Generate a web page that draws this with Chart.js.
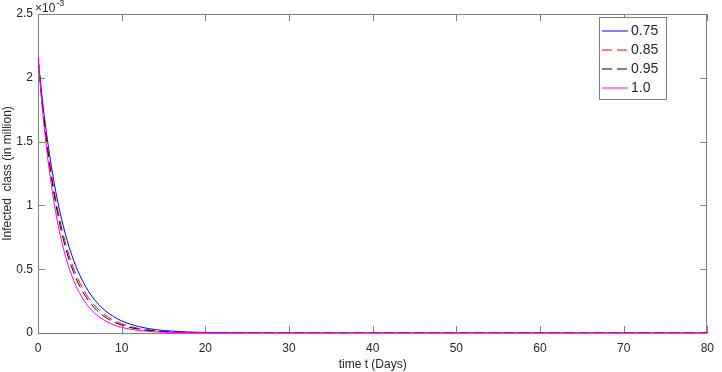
<!DOCTYPE html>
<html>
<head>
<meta charset="utf-8">
<script src="https://cdn.jsdelivr.net/npm/chart.js@4/dist/chart.umd.min.js"></script>
<style>
  body { margin: 0; background: #fff; }
  canvas { display: block; }
</style>
</head>
<body>
<canvas id="infChart" width="722" height="372"></canvas>
<script>
// --- data (Infected class, in units of 1e-3 million) ---
const times = [0, 0.5, 1, 1.5, 2, 2.5, 3, 3.5, 4, 4.5, 5, 6, 7, 8, 9, 10, 11, 12, 13, 14, 15, 16, 18, 20, 25, 30, 40, 50, 60, 70, 80];

const inf075 = [2.16, 1.840, 1.574, 1.347, 1.152, 0.986, 0.844, 0.722, 0.618, 0.528, 0.452, 0.331, 0.242, 0.177, 0.130, 0.095, 0.070, 0.051, 0.037, 0.027, 0.020, 0.015, 0.008, 0.004, 0.001, 0.0002, 0, 0, 0, 0, 0];
const inf085 = [2.16, 1.814, 1.530, 1.291, 1.089, 0.919, 0.775, 0.654, 0.552, 0.466, 0.393, 0.280, 0.199, 0.142, 0.101, 0.072, 0.051, 0.036, 0.026, 0.018, 0.013, 0.009, 0.005, 0.002, 0.0004, 0, 0, 0, 0, 0, 0];
const inf095 = [2.16, 1.800, 1.508, 1.262, 1.057, 0.885, 0.741, 0.621, 0.520, 0.435, 0.365, 0.256, 0.179, 0.126, 0.088, 0.062, 0.043, 0.030, 0.021, 0.015, 0.010, 0.007, 0.004, 0.002, 0.0003, 0, 0, 0, 0, 0, 0];
const inf100 = [2.16, 1.771, 1.459, 1.202, 0.990, 0.815, 0.672, 0.553, 0.456, 0.375, 0.309, 0.210, 0.142, 0.097, 0.065, 0.044, 0.030, 0.020, 0.014, 0.009, 0.006, 0.004, 0.002, 0.001, 0.0001, 0, 0, 0, 0, 0, 0];

const seriesLabels = ['0.75', '0.85', '0.95', '1.0'];
const seriesColors = ['#0000ff', '#ff0000', '#000000', '#ff00ff'];
const seriesDash = [[], [10, 5], [10, 5], []];
const xTicks = [0, 10, 20, 30, 40, 50, 60, 70, 80];
const yTicks = [0, 0.5, 1, 1.5, 2, 2.5];

const FONT = "'Liberation Sans', Arial, Helvetica, sans-serif";
const AXIS_COLOR = '#808080';
const TEXT_COLOR = '#262626';

const toPoints = arr => arr.map((v, i) => ({ x: times[i], y: v }));

function line(i, values) {
    return {
        label: seriesLabels[i],
        data: toPoints(values),
        borderColor: seriesColors[i],
        borderWidth: 1,
        borderDash: seriesDash[i],
        pointRadius: 0,
        fill: false,
        cubicInterpolationMode: 'monotone',
        order: 3 - i   // later series drawn on top, like MATLAB
    };
}

// --- MATLAB style box, inward ticks, exponent, legend ---
const matlabAxes = {
    id: 'matlabAxes',
    beforeDatasetsDraw(chart) {
        const { ctx, chartArea: a, scales: { x, y } } = chart;
        ctx.save();
        ctx.strokeStyle = AXIS_COLOR;
        ctx.lineWidth = 1;
        ctx.strokeRect(Math.round(a.left) + 0.5, Math.round(a.top) + 0.5,
            Math.round(a.right - a.left) - 1, Math.round(a.bottom - a.top));
        const tl = 7;
        ctx.beginPath();
        xTicks.forEach(v => {
            const px = Math.round(x.getPixelForValue(v)) + 0.5;
            ctx.moveTo(px, a.bottom); ctx.lineTo(px, a.bottom - tl);
            ctx.moveTo(px, a.top); ctx.lineTo(px, a.top + tl);
        });
        yTicks.forEach(v => {
            const py = Math.round(y.getPixelForValue(v)) + 0.5;
            ctx.moveTo(a.left, py); ctx.lineTo(a.left + tl, py);
            ctx.moveTo(a.right, py); ctx.lineTo(a.right - tl, py);
        });
        ctx.stroke();
        ctx.restore();
    },
    afterDraw(chart) {
        const { ctx } = chart;
        ctx.save();
        // exponent label
        ctx.fillStyle = TEXT_COLOR;
        ctx.textBaseline = 'alphabetic';
        ctx.textAlign = 'left';
        ctx.font = '12px ' + FONT;
        ctx.fillText('\u00d710', 35, 12);
        const w = ctx.measureText('\u00d710').width;
        ctx.font = '9px ' + FONT;
        ctx.fillText('-3', 35 + w + 1, 6);

        // legend
        const bx = 599.5, by = 17.5, bw = 67, bh = 82;
        ctx.fillStyle = '#fff';
        ctx.fillRect(bx, by, bw, bh);
        ctx.strokeStyle = AXIS_COLOR;
        ctx.lineWidth = 1;
        ctx.strokeRect(bx, by, bw, bh);
        ctx.font = '14px ' + FONT;
        ctx.textBaseline = 'middle';
        seriesLabels.forEach((lab, i) => {
            const ry = 31 + i * 19;
            ctx.strokeStyle = seriesColors[i];
            ctx.setLineDash(seriesDash[i]);
            ctx.beginPath();
            ctx.moveTo(602, ry); ctx.lineTo(628, ry);
            ctx.stroke();
            ctx.setLineDash([]);
            ctx.fillStyle = TEXT_COLOR;
            ctx.fillText(lab, 631, ry + 0.5);
        });
        ctx.restore();
    }
};

const ctx = document.getElementById('infChart').getContext('2d');

new Chart(ctx, {
    type: 'line',
    data: {
        datasets: [
            line(0, inf075),
            line(1, inf085),
            line(2, inf095),
            line(3, inf100)
        ]
    },
    options: {
        responsive: false,
        animation: false,
        devicePixelRatio: 1,
        layout: { padding: { top: 14, right: 6, left: 0, bottom: 0 } },
        plugins: { legend: { display: false }, tooltip: { enabled: false } },
        scales: {
            x: {
                type: 'linear',
                min: 0, max: 80,
                afterFit: s => { s.height = 39; },
                grid: { display: false, drawTicks: false },
                border: { display: false },
                ticks: { stepSize: 10, padding: 8, color: TEXT_COLOR, font: { family: FONT, size: 12 }, maxRotation: 0 },
                title: { display: true, text: 'time t (Days)', color: TEXT_COLOR, font: { family: FONT, size: 12 }, padding: 0 }
            },
            y: {
                min: 0, max: 2.5,
                afterFit: s => { s.width = 38; },
                grid: { display: false, drawTicks: false },
                border: { display: false },
                ticks: {
                    stepSize: 0.5, padding: 5, color: TEXT_COLOR, font: { family: FONT, size: 12 },
                    callback: v => String(Number(v))
                },
                title: { display: true, text: 'Infected  class (in million)', color: TEXT_COLOR, font: { family: FONT, size: 12 }, padding: 0 }
            }
        }
    },
    plugins: [matlabAxes]
});
</script>
</body>
</html>
